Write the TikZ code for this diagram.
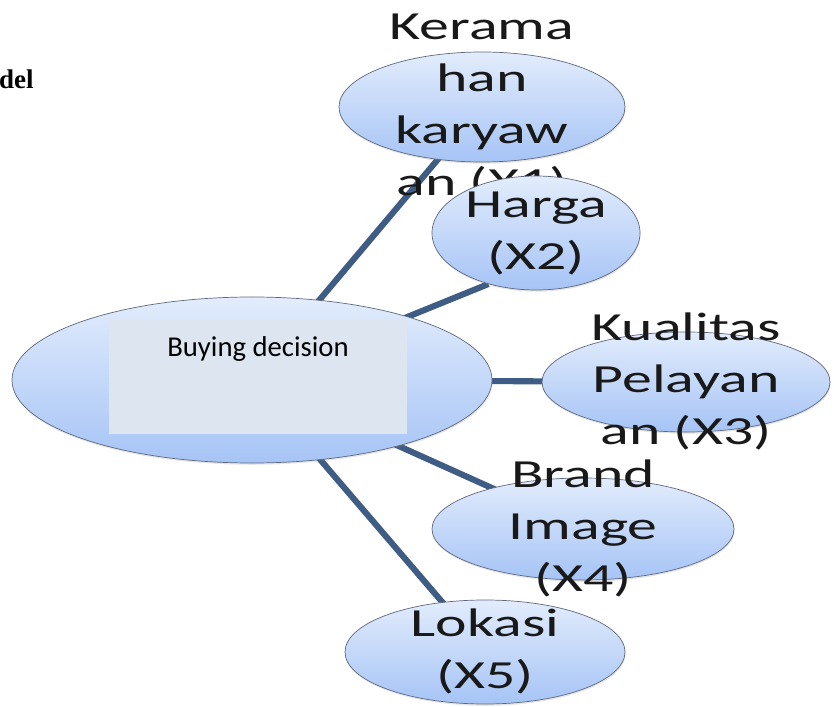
\documentclass[tikz,border=0pt]{standalone}
\usepackage{fontspec}
\setmainfont{Carlito}
\newfontfamily\delfont{Liberation Serif}
\usetikzlibrary{shapes.geometric, backgrounds, shadows}

\definecolor{ellTop}{RGB}{226,236,252}
\definecolor{ellBot}{RGB}{166,196,246}
\definecolor{ellLine}{RGB}{95,105,125}
\definecolor{linkCol}{RGB}{62,92,132}
\definecolor{boxFill}{RGB}{220,229,240}
\newcommand{\wideText}[1]{\scalebox{1.5}[1]{\begin{tabular}{@{}c@{}}#1\end{tabular}}}

\tikzset{
  oval/.style={ellipse, draw=ellLine, line width=0.6pt, top color=ellTop, bottom color=ellBot,
    drop shadow={opacity=0.2, shadow xshift=0.5pt, shadow yshift=-1.5pt}, inner sep=0pt},
  ovaltext/.style={font=\fontsize{34}{44.5}\selectfont, text=black!90, inner sep=0pt},
  link/.style={draw=linkCol, line width=5.2pt}
}

\begin{document}
\begin{tikzpicture}[x=0.03cm, y=-0.03cm]
    \useasboundingbox (0,0) rectangle (834,707);

    % cut-off heading
    \node[anchor=west, font=\delfont\bfseries\fontsize{23}{26}\selectfont, inner sep=0pt] (head) at (-1,79) {del};

    % centre node
    \node[oval, minimum width=14.4cm, minimum height=4.98cm] (main) at (252,380) {};
    \node[fill=boxFill, minimum width=8.94cm, minimum height=3.42cm, inner sep=0pt] (box) at (258,377) {};
    \node[font=\fontsize{24.5}{28}\selectfont, inner sep=0pt] (buy) at (258,349) {Buying decision};

    % factors
    \node[oval, minimum width=8.58cm, minimum height=3.3cm,
      label={[ovaltext]center:\wideText{Kerama\\han\\karyaw\\an (X1)}}] (k1) at (482,107) {};
    \node[oval, minimum width=6.24cm, minimum height=3.42cm,
      label={[ovaltext]center:\wideText{Harga\\(X2)}}] (harga) at (536,233) {};
    \node[oval, minimum width=8.64cm, minimum height=3.0cm,
      label={[ovaltext]center:\wideText{Kualitas\\Pelayan\\an (X3)}}] (kual) at (686,382) {};
    \node[oval, minimum width=9.06cm, minimum height=3.06cm,
      label={[ovaltext]center:\wideText{Brand\\Image\\(X4)}}] (brand) at (583,529) {};
    \node[oval, minimum width=8.4cm, minimum height=3.12cm,
      label={[ovaltext]center:\wideText{Lokasi\\(X5)}}] (lok) at (485,652) {};

    % links
    \begin{scope}[on background layer]
        \foreach \f in {k1,kual,brand,lok}
            \draw[link] (main.center) -- (\f.center);
        \draw[link] (main.center) -- (harga.227);
    \end{scope}
\end{tikzpicture}
\end{document}
